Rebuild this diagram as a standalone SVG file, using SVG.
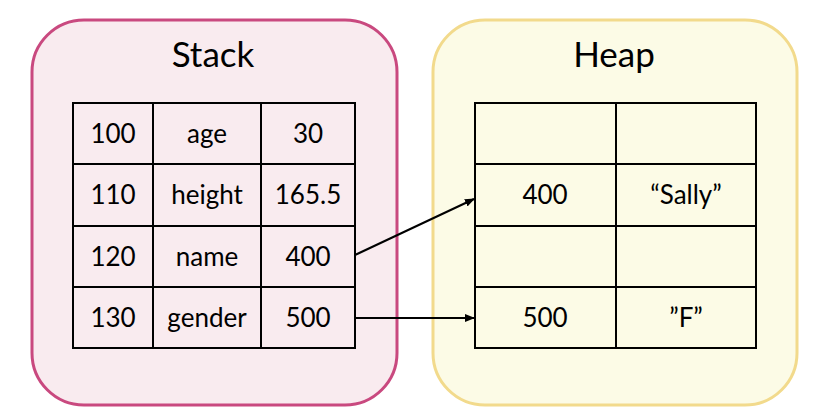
<svg xmlns="http://www.w3.org/2000/svg" width="834" height="418" viewBox="0 0 834 418">
<style>
.title{font-family:"Lato","Liberation Sans",sans-serif;font-size:35px;fill:#000;text-anchor:middle}
.cell{font-family:"Lato","Liberation Sans",sans-serif;font-size:26px;fill:#000;text-anchor:middle}
.grid{fill:none;stroke:#000;stroke-width:2}
.conn{fill:none;stroke:#000;stroke-width:2;marker-end:url(#ah)}
</style>
<defs>
<marker id="ah" markerWidth="10" markerHeight="8" refX="9" refY="4" orient="auto" markerUnits="userSpaceOnUse">
<path d="M0,0 L10,4 L0,8 Z" fill="#000"/>
</marker>
</defs>
<rect width="834" height="418" fill="#fff"/>
<g id="stack">
<rect x="32" y="20" width="365" height="385" rx="52" fill="#f9ebef" stroke="#c9497f" stroke-width="3"/>
<text class="title" x="213" y="67">Stack</text>
<rect class="grid" x="73" y="103" width="282" height="245"/>
<path class="grid" d="M153,103V348M261,103V348M73,164H355M73,226H355M73,287H355"/>
<text class="cell" x="113" y="143">100</text>
<text class="cell" x="207" y="143">age</text>
<text class="cell" x="308" y="143">30</text>
<text class="cell" x="113" y="204">110</text>
<text class="cell" x="207" y="204">height</text>
<text class="cell" x="308" y="204">165.5</text>
<text class="cell" x="113" y="266">120</text>
<text class="cell" x="207" y="266">name</text>
<text class="cell" x="308" y="266">400</text>
<text class="cell" x="113" y="327">130</text>
<text class="cell" x="207" y="327">gender</text>
<text class="cell" x="308" y="327">500</text>
</g>
<g id="heap">
<rect x="433" y="20" width="364" height="385" rx="52" fill="#fcfbe6" stroke="#f2da8c" stroke-width="3"/>
<text class="title" x="614" y="67">Heap</text>
<rect class="grid" x="475" y="103" width="281" height="245"/>
<path class="grid" d="M616,103V348M475,164H756M475,226H756M475,287H756"/>
<text class="cell" x="545" y="204">400</text>
<text class="cell" x="686" y="204">“Sally”</text>
<text class="cell" x="545" y="327">500</text>
<text class="cell" x="686" y="327">”F”</text>
</g>
<g id="connectors">
<line class="conn" x1="355" y1="255" x2="474" y2="199"/>
<line class="conn" x1="355" y1="318" x2="474" y2="318"/>
</g>
</svg>
